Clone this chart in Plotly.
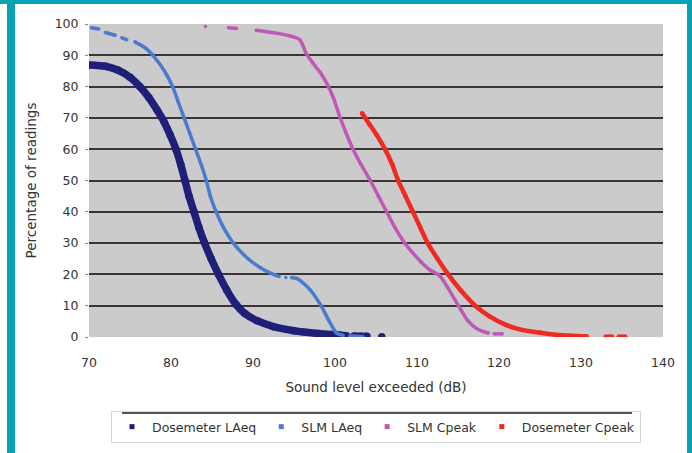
import plotly.graph_objects as go

# ---- data ----
dl_x = [70.0, 72.0, 73.5, 75.0, 76.2, 77.3, 78.3, 79.1, 79.9, 80.6, 81.2, 81.7, 82.2, 82.8, 83.4, 84.1,
        84.9, 85.8, 86.8, 87.9, 89.0, 90.5, 92.5, 95.0, 98.0, 100.6, 101.4, None, 102.3, 103.2, 103.9,
        None, 105.7]
dl_y = [86.9, 86.5, 85.3, 83.0, 80.0, 76.5, 72.5, 69.0, 64.5, 60.0, 55.0, 50.0, 45.0, 40.0, 35.0, 30.0,
        25.0, 20.0, 15.0, 10.5, 7.5, 5.2, 3.3, 2.0, 1.1, 0.6, 0.4, None, 0.3, 0.2, 0.2,
        None, 0.1]

sl_x = [70.3, 71.2, None, 72.0, 73.2, None, 74.0, 74.6, None, 75.6, 76.8, 77.8, 79.2, 80.2, 80.9, 81.6,
        82.3, 83.0, 83.7, 84.3, 84.8, 85.5, 86.4, 87.6, 89.4, 91.0, 92.5, 93.2, None, 94.0, None,
        94.7, 95.5, 97.0, 98.3, 99.3, 100.2, 101.0, None, 101.8, 102.6, 103.4]
sl_y = [98.8, 98.4, None, 97.3, 96.4, None, 95.6, 95.0, None, 94.3, 92.5, 90.0, 85.0, 80.0, 75.0, 70.0,
        65.0, 60.0, 55.0, 50.0, 45.0, 40.0, 35.0, 30.0, 25.0, 22.0, 20.0, 19.3, None, 19.0, None,
        19.0, 18.5, 15.0, 10.0, 5.0, 1.2, 0.5, None, 0.3, 0.2, 0.1]

sc_x = [84.2, None, 87.0, 88.0, None, 90.4, 91.5, 93.0, 94.5, 95.7, 96.5, 97.3, 98.2, 99.0, 99.8, 100.5,
        101.3, 102.2, 103.2, 104.3, 105.3, 106.3, 107.3, 108.5, 109.5, 110.5, 111.6, 112.8, 113.7,
        114.6, 115.4, 116.2, 117.1, 118.0, 118.7, None, 119.4, 120.4]
sc_y = [99.2, None, 98.8, 98.6, None, 98.0, 97.6, 97.0, 96.2, 95.0, 90.5, 87.5, 84.5, 81.0, 76.5, 71.0,
        65.5, 60.0, 55.0, 50.0, 45.0, 40.0, 35.0, 30.0, 26.8, 24.0, 21.4, 19.5, 16.0,
        12.0, 8.5, 5.2, 3.0, 1.8, 1.3, None, 1.0, 1.0]

dc_x = [103.3, 104.2, 105.1, 106.1, 107.0, 107.7, 108.6, 109.5, 110.4, 111.3, 112.5, 113.8, 115.3, 117.1,
        118.9, 120.9, 122.9, 125.0, 127.0, 128.8, 130.7, None, 133.0, 133.8, None, 134.6, 135.4]
dc_y = [71.5, 68.0, 64.5, 60.0, 55.0, 50.0, 45.0, 40.0, 35.0, 30.0, 25.0, 20.0, 15.0, 10.0,
        6.5, 3.8, 2.2, 1.4, 0.7, 0.4, 0.2, None, 0.1, 0.1, None, 0.1, 0.1]

names = ["Dosemeter LAeq", "SLM LAeq", "SLM Cpeak", "Dosemeter Cpeak"]
colors = ["#1f1f78", "#4b7bd0", "#c058b8", "#ee2a22"]
widths = [7.5, 3.5, 3.5, 4.5]
x_ticks = [70, 80, 90, 100, 110, 120, 130, 140]
y_ticks = [0, 10, 20, 30, 40, 50, 60, 70, 80, 90, 100]

series = [(dl_x, dl_y), (sl_x, sl_y), (sc_x, sc_y), (dc_x, dc_y)]

fig = go.Figure()
for (xs, ys), n, c, w in zip(series, names, colors, widths):
    fig.add_trace(go.Scatter(x=xs, y=ys, mode="lines+markers", name=n, showlegend=False,
                             line=dict(color=c, width=w, shape="spline", smoothing=0.6),
                             marker=dict(color=c, size=w, symbol="circle", line=dict(width=0))))
for n, c in zip(names, colors):
    fig.add_trace(go.Scatter(x=[None], y=[None], mode="markers", name=n,
                             marker=dict(color=c, size=5, symbol="square")))

W, H = 692, 453
L, R, T, B = 89, 29, 24, 116
pw, ph = W - L - R, H - T - B

def px(xp):
    return (xp - L) / pw

def py(yp):
    return (H - B - yp) / ph

teal = "#08a3b3"
shapes = [
    dict(type="rect", xref="paper", yref="paper", x0=px(7), x1=px(15), y0=py(H), y1=py(0),
         fillcolor=teal, line=dict(width=0), layer="above"),
    dict(type="rect", xref="paper", yref="paper", x0=px(0), x1=px(W), y0=py(4), y1=py(0),
         fillcolor=teal, line=dict(width=0), layer="above"),
    dict(type="rect", xref="paper", yref="paper", x0=px(687), x1=px(W), y0=py(H), y1=py(0),
         fillcolor=teal, line=dict(width=0), layer="above"),
    dict(type="line", xref="paper", yref="paper", x0=px(122), x1=px(632), y0=py(413), y1=py(413),
         line=dict(color="#555555", width=2), layer="above"),
]

font_fam = "DejaVu Sans, Arial, sans-serif"
fig.update_layout(
    width=W, height=H, autosize=False,
    margin=dict(l=L, r=R, t=T, b=B, autoexpand=False),
    paper_bgcolor="white", plot_bgcolor="#cbcbcb",
    font=dict(family=font_fam, color="#333333", size=12),
    shapes=shapes,
    legend=dict(orientation="h", x=0.5, xanchor="center", yref="container",
                y=1 - 411 / H, yanchor="top",
                font=dict(size=12.5, color="#333333"), bgcolor="rgba(0,0,0,0)",
                bordercolor="#d8d8d8", borderwidth=1, itemwidth=30,
                tracegroupgap=0),
    xaxis=dict(range=[70, 140], tickvals=x_ticks, showgrid=False, zeroline=False, automargin=False,
               ticks="outside", ticklen=14, tickcolor="rgba(0,0,0,0)", showline=False,
               tickfont=dict(size=12.5, color="#333333"),
               title=dict(text="Sound level exceeded (dB)", font=dict(size=13.5, color="#333333"),
                          standoff=13)),
    yaxis=dict(range=[0, 100], tickvals=y_ticks, showgrid=True, gridcolor="#3b3434", gridwidth=2,
               zeroline=False, automargin=False, ticks="outside", ticklen=3, tickcolor="#888888",
               showline=False, tickfont=dict(size=12.5, color="#333333"), ticklabelstandoff=4,
               title=dict(text="Percentage of readings", font=dict(size=13.5, color="#333333"),
                          standoff=14)),
)

fig.write_html("out.html", config={"displayModeBar": False},
               post_script="document.body.style.margin='0';")
